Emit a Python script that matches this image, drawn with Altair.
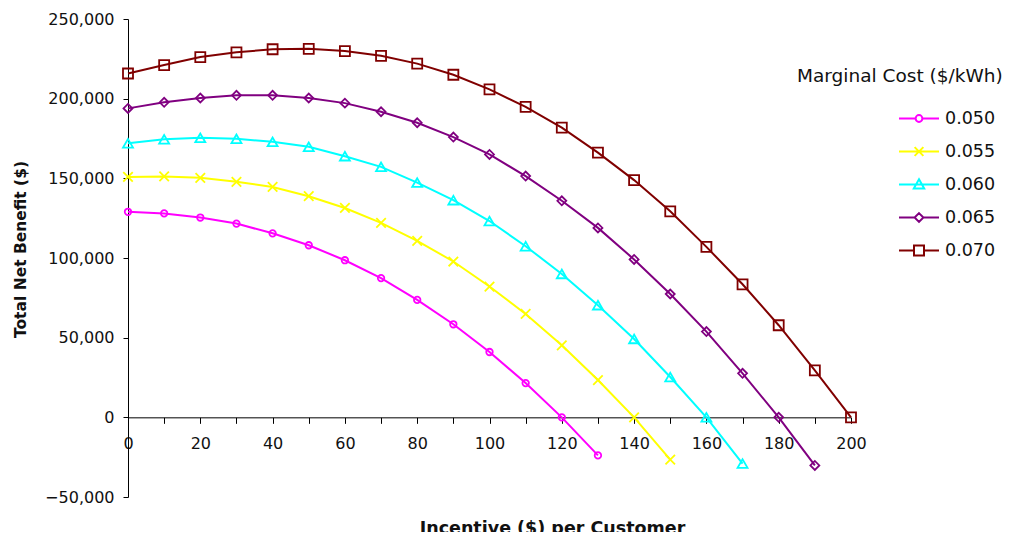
import altair as alt
import pandas as pd

# ---- data ----
INCENTIVE = [0, 10, 20, 30, 40, 50, 60, 70, 80, 90, 100,
             110, 120, 130, 140, 150, 160, 170, 180, 190, 200]
SERIES = ["0.050", "0.055", "0.060", "0.065", "0.070"]

cost_050 = [129000, 128000, 125400, 121600, 115500, 108000, 98600, 87400, 73700,
            58400, 41000, 21500, 0, -23900]
cost_055 = [150900, 151200, 150300, 147800, 144600, 138800, 131400, 122000, 110800,
            97800, 82100, 64900, 45200, 23400, 0, -26500]
cost_060 = [172000, 174500, 175400, 174800, 172900, 169800, 163900, 157200, 147300,
            136300, 123200, 107400, 90000, 70400, 49200, 25300, 0, -29000]
cost_065 = [193900, 197700, 200400, 202100, 202100, 200400, 197200, 191800, 184900,
            175900, 165000, 151400, 135900, 118900, 99100, 77400, 53800, 27600, 0, -30200]
cost_070 = [215800, 221100, 226100, 229100, 231000, 231300, 229900, 226900, 222000,
            215000, 205800, 194900, 181800, 166100, 148900, 129300, 107000, 83500,
            57800, 29500, 0]

VALUES = [cost_050, cost_055, cost_060, cost_065, cost_070]
COLORS = ["#FF00FF", "#FFFF00", "#00FFFF", "#800080", "#800000"]

rows = []
for s, vals in zip(SERIES, VALUES):
    for x, v in zip(INCENTIVE, vals):
        rows.append({"incentive": x, "benefit": v, "series": s})
df = pd.DataFrame(rows)

FONT = "DejaVu Sans"
W, H = 723, 478
Y_MIN, Y_MAX = -50000, 250000
LEGEND_TITLE = "Marginal Cost ($/kWh)"

MARKERS = [
    ("circle", 42),
    ("M-1,-1L1,1M-1,1L1,-1", 90),
    ("triangle-up", 100),
    ("diamond", 80),
    ("square", 100),
]

# legend symbols: line segment with the series marker
LEGEND_PATHS = [
    "M-1,0H-0.17M0.17,0H1M-0.17,0A0.17,0.17 0 1,0 0.17,0A0.17,0.17 0 1,0 -0.17,0",
    "M-1,0H1M-0.22,-0.22L0.22,0.22M-0.22,0.22L0.22,-0.22",
    "M-1,0H1M0,-0.26L0.26,0.2L-0.26,0.2Z",
    "M-1,0H-0.22M0.22,0H1M0,-0.22L0.22,0L0,0.22L-0.22,0Z",
    "M-1,0H-0.25M0.25,0H1M-0.25,-0.25H0.25V0.25H-0.25Z",
]

x_enc = alt.X(
    "incentive:Q",
    scale=alt.Scale(domain=[0, 200], nice=False, zero=False),
    axis=alt.Axis(
        title="Incentive ($) per Customer",
        values=list(range(0, 201, 10)),
        labelExpr="datum.value % 20 == 0 ? datum.label : ''",
        offset=-(H * (0 - Y_MIN) / (Y_MAX - Y_MIN)),
        grid=False, tickSize=6, tickColor="black", domainColor="black",
        labelPadding=12, labelOverlap=False, labelFlush=False,
        labelFont=FONT, labelFontSize=16, labelColor="#111111",
        titleFont=FONT, titleFontSize=17.5, titleFontWeight="bold", titleColor="#111111",
        titleX=424, titleY=102, titleAlign="center", titleBaseline="top",
    ),
)
y_enc = alt.Y(
    "benefit:Q",
    scale=alt.Scale(domain=[Y_MIN, Y_MAX], nice=False, zero=False),
    axis=alt.Axis(
        title="Total Net Benefit ($)",
        values=list(range(Y_MIN, Y_MAX + 1, 50000)),
        format=",d",
        grid=False, tickSize=5, tickColor="black", domainColor="black",
        labelPadding=9, labelFont=FONT, labelFontSize=16, labelColor="#111111",
        titleFont=FONT, titleFontSize=15.5, titleFontWeight="bold", titleColor="#111111",
        titleX=-108, titleY=230, titleAngle=270, titleAlign="center", titleBaseline="middle",
    ),
)

legend_cfg = dict(
    title=LEGEND_TITLE,
    orient="none",
    legendX=669,
    legendY=48,
    titleFont=FONT,
    titleFontSize=18.5,
    titleFontWeight="normal",
    titleColor="#111111",
    titleLimit=400,
    titlePadding=12,
    labelFont=FONT,
    labelFontSize=17.5,
    labelColor="#111111",
    labelOffset=5,
    symbolSize=1600,
    symbolStrokeWidth=2,
    symbolOpacity=1,
    symbolOffset=101,
    rowPadding=3,
)

color_scale = alt.Scale(domain=SERIES, range=COLORS)
shape_scale = alt.Scale(domain=SERIES, range=LEGEND_PATHS)


def color_enc():
    return alt.Color("series:N", scale=color_scale, legend=alt.Legend(**legend_cfg))


base = alt.Chart(df)

lines = base.mark_line(strokeWidth=2).encode(x=x_enc, y=y_enc, color=color_enc())

point_layers = []
for s, (shape, size) in zip(SERIES, MARKERS):
    point_layers.append(
        base.transform_filter(alt.datum.series == s)
        .mark_point(shape=shape, size=size, filled=False, strokeWidth=1.8, opacity=1)
        .encode(x=x_enc, y=y_enc, color=color_enc())
    )

# layer whose marks are all filtered out; it only supplies the legend symbols
legend_layer = (
    base.transform_filter("datum.incentive < -1")
    .mark_point(filled=False, size=1600, strokeWidth=2, opacity=1)
    .encode(
        x=x_enc, y=y_enc,
        color=color_enc(),
        shape=alt.Shape("series:N", scale=shape_scale, legend=alt.Legend(**legend_cfg)),
    )
)

chart = (
    alt.layer(lines, *point_layers, legend_layer)
    .properties(
        width=W,
        height=H,
        autosize=alt.AutoSizeParams(type="none"),
        padding={"left": 120, "top": 11, "right": 155, "bottom": 35},
    )
    .configure(background="white")
    .configure_view(strokeOpacity=0)
)

chart.save("out.html", embed_options={"renderer": "svg", "actions": False})
